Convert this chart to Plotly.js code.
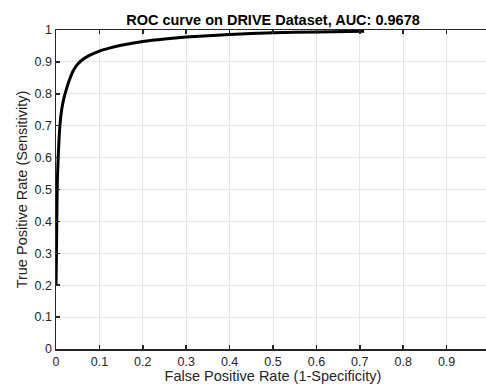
<!DOCTYPE html>
<html>
<head>
<meta charset="utf-8">
<script src="https://cdn.plot.ly/plotly-3.0.1.min.js"></script>
<style>
html,body{margin:0;padding:0;overflow:hidden;background:#fff;}
#chart{width:492px;height:389px;}
</style>
</head>
<body>
<div id="chart"></div>
<script>
var fpr = [0, 0.001, 0.002, 0.003, 0.005, 0.009, 0.013, 0.018, 0.022, 0.03, 0.04, 0.05, 0.06, 0.075, 0.1, 0.125, 0.15, 0.2, 0.25, 0.3, 0.4, 0.5, 0.6, 0.71];
var tpr = [0.2, 0.3, 0.42, 0.52, 0.6, 0.7, 0.75, 0.785, 0.805, 0.84, 0.873, 0.893, 0.906, 0.919, 0.934, 0.944, 0.952, 0.964, 0.972, 0.978, 0.986, 0.991, 0.994, 0.996];
var xTicks = [0, 0.1, 0.2, 0.3, 0.4, 0.5, 0.6, 0.7, 0.8, 0.9];
var yTicks = [0, 0.1, 0.2, 0.3, 0.4, 0.5, 0.6, 0.7, 0.8, 0.9, 1];
var xTickText = ['0', '0.1', '0.2', '0.3', '0.4', '0.5', '0.6', '0.7', '0.8', '0.9'];
var yTickText = ['0', '0.1', '0.2', '0.3', '0.4', '0.5', '0.6', '0.7', '0.8', '0.9', '1'];

var fam = 'Liberation Sans, Arial, sans-serif';
var tickFont = {family: fam, size: 12.5, color: '#262626'};
var labelFont = {family: fam, size: 14.5, color: '#262626'};
var axisCommon = {
  showline: true, linecolor: '#262626', linewidth: 1.5, mirror: 'ticks',
  ticks: 'inside', ticklen: 4, tickwidth: 1.5, tickcolor: '#262626',
  showgrid: true, gridcolor: '#e6e6e6', gridwidth: 1, zeroline: false,
  tickfont: tickFont
};
var layout = {
  width: 492, height: 389,
  margin: {l: 56, r: 2, t: 29.5, b: 39.5},
  paper_bgcolor: '#fff', plot_bgcolor: '#fff',
  showlegend: false,
  font: tickFont,
  title: {text: '<b>ROC curve on DRIVE Dataset, AUC: 0.9678</b>', font: {family: fam, size: 14.5, color: '#000'},
          x: 0.5, xref: 'paper', y: 1, yref: 'paper', yanchor: 'bottom', pad: {b: 5}},
  xaxis: Object.assign({}, axisCommon, {range: [0, 1], tickvals: xTicks, ticktext: xTickText,
          title: {text: 'False Positive Rate (1-Specificity)', font: labelFont, standoff: 2}}),
  yaxis: Object.assign({}, axisCommon, {range: [0, 1], tickvals: yTicks, ticktext: yTickText,
          title: {text: 'True Positive Rate (Sensitivity)', font: labelFont, standoff: 3}})
};
var data = [{
  x: fpr, y: tpr, type: 'scatter', mode: 'lines',
  line: {color: '#000', width: 3, shape: 'spline', smoothing: 0.5}
}];
Plotly.newPlot('chart', data, layout, {displayModeBar: false, staticPlot: true});
</script>
</body>
</html>
